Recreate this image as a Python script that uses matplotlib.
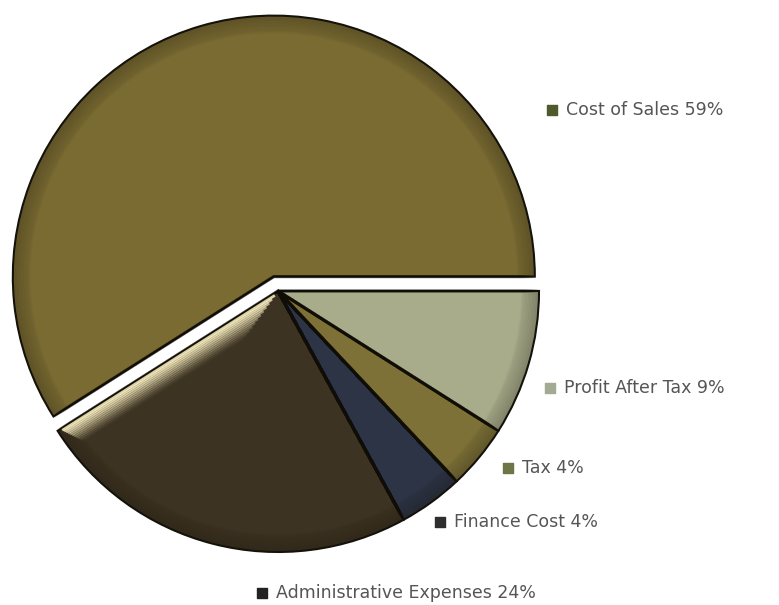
import numpy as np
import matplotlib.pyplot as plt

labels = ['Cost of Sales', 'Administrative Expenses', 'Finance Cost', 'Tax', 'Profit After Tax']
shares = [59, 24, 4, 4, 9]
slice_colors = ['#7a6b33', '#3d3322', '#2d3445', '#7d7138', '#a8ac8b']
key_colors = ['#4f5a2c', '#222222', '#2e2e2e', '#6e7648', '#a3aa92']
explode = [15, 0, 0, 0, 0]

# where each legend entry sits (pixels, top-left origin)
key_pos = [(552, 110), (262, 593), (440, 522), (508, 468), (550, 388)]

H = 605
cx, cy, R = 278, H - 291, 261

fig = plt.figure(figsize=(7.79, 6.05), dpi=100)
ax = fig.add_axes([0, 0, 1, 1])

wedges, _ = ax.pie(shares, colors=slice_colors, explode=explode, startangle=0,
                   counterclock=True, center=(cx, cy), radius=R,
                   wedgeprops=dict(edgecolor='#15130c', linewidth=1.5))

# darkened rims: stacked faint outlines fading inwards
for i in range(12):
    ax.pie(shares, colors=['none'] * 5, explode=explode, startangle=0,
           center=(cx, cy), radius=R - 1 - i * 1.4,
           wedgeprops=dict(edgecolor=(0.06, 0.05, 0.02, 0.12 - i * 0.008),
                           linewidth=2.2, fill=False))

# light bevel on the admin slice edge facing the gap
w = wedges[1]
t = np.deg2rad(w.theta1)
ux, uy = np.cos(t), np.sin(t)
nx, ny = -np.sin(t), np.cos(t)
for j in range(12):
    k = 2 + j * 1.8
    a = 0.85 * (1 - j / 12) ** 1.5
    ax.plot([cx + nx * k + ux * (k * 2.5), cx + nx * k + ux * (R - k * 0.6 - 3)],
            [cy + ny * k + uy * (k * 2.5), cy + ny * k + uy * (R - k * 0.6 - 3)],
            color=(0.98, 0.94, 0.76, a), lw=2, solid_capstyle='butt', zorder=3)

for lab, pct, kc, (x, y) in zip(labels, shares, key_colors, key_pos):
    ax.scatter([x], [H - y], marker='s', s=55, color=kc, zorder=5)
    ax.text(x + 14, H - y, f'{lab} {pct}%', fontsize=12.5, color='#555555',
            va='center', ha='left')

# pie() resets the limits, so set them last
ax.set_xlim(0, 779)
ax.set_ylim(0, H)
ax.set_aspect('equal')
ax.axis('off')

fig.savefig('out.png', dpi=100)
